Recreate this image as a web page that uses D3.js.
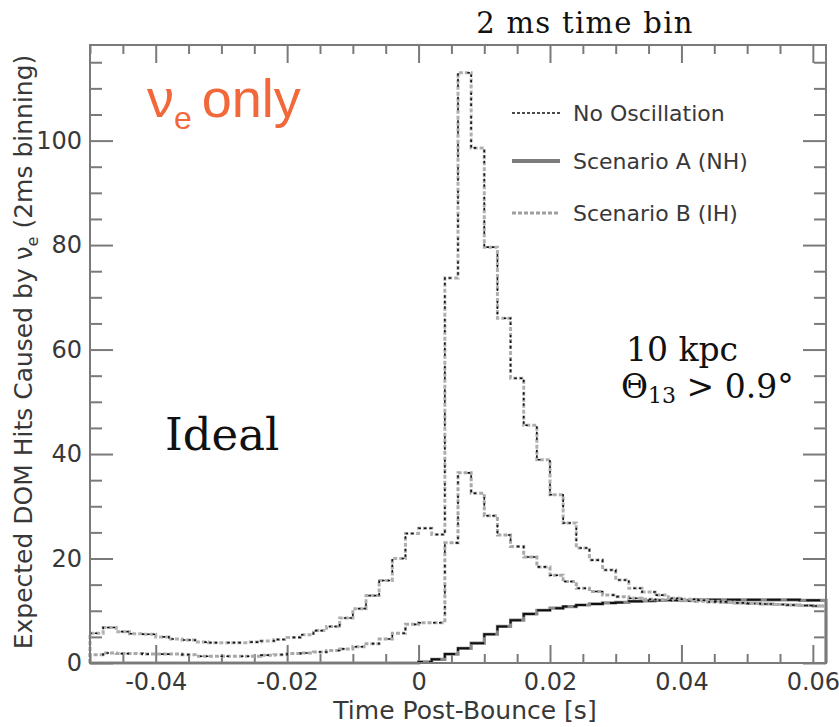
<!DOCTYPE html>
<html>
<head>
<meta charset="utf-8">
<script src="https://cdn.jsdelivr.net/npm/d3@7"></script>
<style>
  html, body { margin: 0; padding: 0; background: #fff; }
  svg { display: block; }
</style>
</head>
<body>
<svg id="chart" width="839" height="727"></svg>
<script>
// ---------- DATA ----------
const binStart = -0.05;          // first bin lower edge [s]
const binWidth = 0.002;          // 2 ms bins
const xDomain = [-0.05, 0.062];
const yDomain = [0, 118.3];
const xMajorTicks = [-0.04, -0.02, 0, 0.02, 0.04, 0.06];
const xTickLabels = ["-0.04", "-0.02", "0", "0.02", "0.04", "0.06"];
const yMajorTicks = [0, 20, 40, 60, 80, 100];
const yTickLabels = ["0", "20", "40", "60", "80", "100"];

const seriesNames = ["No Oscillation", "Scenario A (NH)", "Scenario B (IH)"];

const noOscillation = [
  5.7, 6.8, 6.0, 5.6, 5.5, 5.0, 4.6, 4.4, 4.0, 3.9,
  3.9, 3.9, 4.0, 4.2, 4.5, 4.9, 5.4, 6.2, 7.0, 8.6,
  10.4, 12.9, 15.8, 20.0, 24.8, 25.8, 24.6, 73.7, 113.0, 98.6,
  79.6, 66.0, 54.5, 45.5, 38.9, 32.2, 26.8, 22.0, 19.7, 17.8,
  15.9, 14.3, 13.6, 13.0, 12.4, 12.2, 12.0, 11.8, 11.7, 11.5,
  11.4, 11.3, 11.2, 11.1, 11.0, 10.9
];
const scenarioA = [
  0, 0, 0, 0, 0, 0, 0, 0, 0, 0,
  0, 0, 0, 0, 0, 0, 0, 0, 0, 0,
  0, 0, 0, 0, 0, 0.2, 0.7, 1.7, 2.8, 3.8,
  5.5, 7.0, 8.2, 9.4, 10.1, 10.5, 10.8, 11.1, 11.3, 11.5,
  11.6, 11.8, 11.9, 12.0, 12.0, 12.0, 12.1, 12.1, 12.1, 12.1,
  12.1, 12.1, 12.1, 12.1, 12.0, 12.0
];
const scenarioB = [
  1.6, 1.9, 1.8, 1.8, 1.7, 1.7, 1.7, 1.6, 1.3, 1.3,
  1.3, 1.3, 1.3, 1.5, 1.6, 1.8, 1.9, 2.1, 2.4, 2.7,
  3.1, 3.7, 4.6, 5.7, 7.4, 7.7, 7.7, 23.0, 36.4, 32.5,
  28.2, 24.5, 22.3, 20.3, 18.4, 16.8, 15.6, 14.3, 13.7, 13.0,
  12.7, 12.4, 12.2, 12.1, 12.0, 11.9, 11.8, 11.7, 11.6, 11.5,
  11.4, 11.3, 11.2, 11.1, 11.0, 10.9
];

// ---------- LAYOUT ----------
const W = 839, H = 727;
const plot = { left: 90, right: 826, top: 45, bottom: 663 };
const svg = d3.select("#chart");

const x = d3.scaleLinear().domain(xDomain).range([plot.left, plot.right]);
const y = d3.scaleLinear().domain(yDomain).range([plot.bottom, plot.top]);

const axisColor = "#7a7a7a";
const labelColor = "#383838";
const sansFont = "'DejaVu Sans', Arial, sans-serif";
const serifFont = "'DejaVu Serif', 'Liberation Serif', serif";

// minor ticks
const xMinor = d3.range(-0.05, 0.0621, 0.005).map(v => +v.toFixed(4)).filter(v => !xMajorTicks.some(m => Math.abs(m - v) < 1e-6));
const yMinor = d3.range(0, 118.3, 5).filter(v => v % 20 !== 0);

function styleAxis(g) {
  g.select(".domain").remove();
  g.selectAll(".tick line").attr("stroke", axisColor).attr("stroke-width", 2);
}

// bottom axis
const gx = svg.append("g").attr("transform", `translate(0,${plot.bottom})`)
  .call(d3.axisBottom(x).tickValues(xMajorTicks).tickSizeInner(-18).tickSizeOuter(0)
    .tickPadding(23).tickFormat((d, i) => xTickLabels[i]));
styleAxis(gx);
gx.selectAll(".tick text").attr("font-family", sansFont).attr("font-size", 24)
  .attr("fill", labelColor).attr("dy", "0.17em");
const gxm = svg.append("g").attr("transform", `translate(0,${plot.bottom})`)
  .call(d3.axisBottom(x).tickValues(xMinor).tickSizeInner(-9).tickSizeOuter(0).tickFormat(""));
styleAxis(gxm);

// top axis
const gt = svg.append("g").attr("transform", `translate(0,${plot.top})`)
  .call(d3.axisTop(x).tickValues(xMajorTicks).tickSizeInner(-18).tickSizeOuter(0).tickFormat(""));
styleAxis(gt);
const gtm = svg.append("g").attr("transform", `translate(0,${plot.top})`)
  .call(d3.axisTop(x).tickValues(xMinor).tickSizeInner(-9).tickSizeOuter(0).tickFormat(""));
styleAxis(gtm);

// left axis
const gy = svg.append("g").attr("transform", `translate(${plot.left},0)`)
  .call(d3.axisLeft(y).tickValues(yMajorTicks).tickSizeInner(-23).tickSizeOuter(0)
    .tickPadding(8).tickFormat((d, i) => yTickLabels[i]));
styleAxis(gy);
gy.selectAll(".tick text").attr("font-family", sansFont).attr("font-size", 24).attr("fill", labelColor);
const gym = svg.append("g").attr("transform", `translate(${plot.left},0)`)
  .call(d3.axisLeft(y).tickValues(yMinor).tickSizeInner(-12).tickSizeOuter(0).tickFormat(""));
styleAxis(gym);

// right axis
const gr = svg.append("g").attr("transform", `translate(${plot.right},0)`)
  .call(d3.axisRight(y).tickValues(yMajorTicks).tickSizeInner(-23).tickSizeOuter(0).tickFormat(""));
styleAxis(gr);
const grm = svg.append("g").attr("transform", `translate(${plot.right},0)`)
  .call(d3.axisRight(y).tickValues(yMinor).tickSizeInner(-12).tickSizeOuter(0).tickFormat(""));
styleAxis(grm);

// ---------- HISTOGRAMS ----------
function histPoints(vals) {
  const pts = [[binStart, 0]];
  vals.forEach((v, i) => pts.push([binStart + i * binWidth, v]));
  const end = binStart + vals.length * binWidth;
  pts.push([end, vals[vals.length - 1]]);
  pts.push([end, 0]);
  return pts;
}
const stepLine = d3.line().x(d => x(d[0])).y(d => y(d[1])).curve(d3.curveStepAfter);

const gPlot = svg.append("g");

// Scenario A (solid)
gPlot.append("path").attr("d", stepLine(histPoints(scenarioA)))
  .attr("fill", "none").attr("stroke", "#8a8a8a").attr("stroke-width", 3.2);
gPlot.append("path").attr("d", stepLine(histPoints(scenarioA)))
  .attr("fill", "none").attr("stroke", "#111").attr("stroke-width", 2)
  .attr("stroke-dasharray", "14,6");

// Scenario B (gray dashed, with dark dots)
gPlot.append("path").attr("d", stepLine(histPoints(scenarioB)))
  .attr("fill", "none").attr("stroke", "#a9a9a9").attr("stroke-width", 3)
  .attr("stroke-dasharray", "4,2");
gPlot.append("path").attr("d", stepLine(histPoints(scenarioB)))
  .attr("fill", "none").attr("stroke", "#111").attr("stroke-width", 1.6)
  .attr("stroke-dasharray", "2.5,3.5,2.5,12");

// No oscillation (black dashed, with gray)
gPlot.append("path").attr("d", stepLine(histPoints(noOscillation)))
  .attr("fill", "none").attr("stroke", "#b0b0b0").attr("stroke-width", 3)
  .attr("stroke-dasharray", "4,2");
gPlot.append("path").attr("d", stepLine(histPoints(noOscillation)))
  .attr("fill", "none").attr("stroke", "#111").attr("stroke-width", 1.6)
  .attr("stroke-dasharray", "2.5,3,2.5,3,2.5,10");

// frame
svg.append("rect").attr("x", plot.left).attr("y", plot.top)
  .attr("width", plot.right - plot.left).attr("height", plot.bottom - plot.top)
  .attr("fill", "none").attr("stroke", axisColor).attr("stroke-width", 2);

// ---------- LEGEND ----------
const legend = svg.append("g");
const legY = [113, 161, 213];
const legStyles = [
  { stroke: "#111", width: 1.5, dash: "3,2" },
  { stroke: "#7c7c7c", width: 4, dash: null },
  { stroke: "#a0a0a0", width: 3.2, dash: "4,2" }
];
seriesNames.forEach((name, i) => {
  const l = legend.append("line").attr("x1", 512).attr("x2", 560)
    .attr("y1", legY[i]).attr("y2", legY[i])
    .attr("stroke", legStyles[i].stroke).attr("stroke-width", legStyles[i].width);
  if (legStyles[i].dash) l.attr("stroke-dasharray", legStyles[i].dash);
  legend.append("text").attr("x", 573).attr("y", legY[i]).attr("dy", "0.36em")
    .attr("font-family", sansFont).attr("font-size", 22).attr("fill", labelColor)
    .text(name);
});

// ---------- AXIS TITLES ----------
svg.append("text").attr("x", (plot.left + plot.right) / 2 + 7).attr("y", 719)
  .attr("text-anchor", "middle").attr("font-family", sansFont).attr("font-size", 25)
  .attr("fill", labelColor).text("Time Post-Bounce [s]");

const yt = svg.append("text").attr("transform", `translate(32,${(plot.top + plot.bottom) / 2 - 2}) rotate(-90)`)
  .attr("text-anchor", "middle").attr("font-family", sansFont).attr("font-size", 25)
  .attr("fill", labelColor);
yt.append("tspan").text("Expected DOM Hits Caused by ν");
yt.append("tspan").attr("font-size", 16).attr("dy", 6).text("e");
yt.append("tspan").attr("dy", -6).text(" (2ms binning)");

// ---------- ANNOTATIONS ----------
svg.append("text").attr("x", 585).attr("y", 33).attr("text-anchor", "middle")
  .attr("font-family", serifFont).attr("font-size", 29).attr("letter-spacing", 1.3)
  .attr("fill", "#111").text("2 ms time bin");

const nu = svg.append("text").attr("x", 147).attr("y", 117)
  .attr("font-family", "'Liberation Sans', Arial, sans-serif").attr("font-size", 54)
  .attr("fill", "#f2683a");
nu.append("tspan").text("ν");
nu.append("tspan").attr("font-size", 32).attr("dy", 12).text("e");
nu.append("tspan").attr("dy", -12).attr("dx", 10).text("only");

svg.append("text").attr("x", 165).attr("y", 450)
  .attr("font-family", serifFont).attr("font-size", 45).attr("fill", "#111").text("Ideal");

svg.append("text").attr("x", 626).attr("y", 361)
  .attr("font-family", serifFont).attr("font-size", 33).attr("fill", "#111").text("10 kpc");

const th = svg.append("text").attr("x", 621).attr("y", 398)
  .attr("font-family", serifFont).attr("font-size", 33).attr("fill", "#111");
th.append("tspan").text("Θ");
th.append("tspan").attr("font-size", 22).attr("dy", 5).text("13");
th.append("tspan").attr("dy", -5).text(" > 0.9°");
</script>
</body>
</html>
